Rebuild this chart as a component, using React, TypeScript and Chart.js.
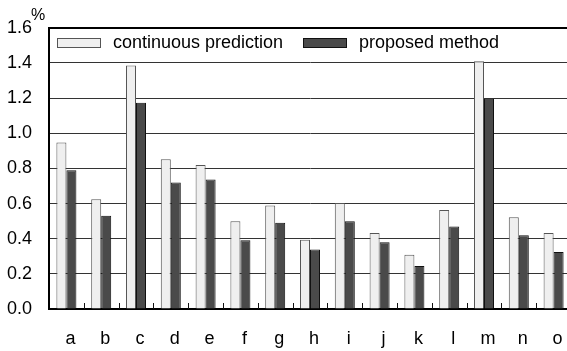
import React, { useEffect, useRef } from "react";
import { Chart, registerables } from "chart.js";

Chart.register(...registerables);

const categories = ["a", "b", "c", "d", "e", "f", "g", "h", "i", "j", "k", "l", "m", "n", "o"];
const continuousPrediction = [0.947, 0.624, 1.386, 0.852, 0.819, 0.5, 0.589, 0.394, 0.603, 0.432, 0.308, 0.563, 1.41, 0.522, 0.432];
const proposedMethod = [0.789, 0.53, 1.174, 0.72, 0.737, 0.391, 0.491, 0.339, 0.5, 0.38, 0.245, 0.47, 1.197, 0.419, 0.324];
const seriesLabels = ["continuous prediction", "proposed method"];
const yUnit = "%";

const FONT = "'Liberation Sans', Arial, Helvetica, sans-serif";

const extrasPlugin = {
  id: "extras",
  afterDatasetsDraw(chart: any) {
    const ctx = chart.ctx;
    const xs = chart.scales.x;
    const area = chart.chartArea;
    ctx.save();
    // boundary ticks pointing inward
    ctx.strokeStyle = "#111";
    ctx.lineWidth = 1;
    for (let i = 1; i <= categories.length; i++) {
      const x = Math.round((xs.getPixelForValue(i - 1) + xs.getPixelForValue(i)) / 2) + 0.5;
      ctx.beginPath();
      ctx.moveTo(x, area.bottom);
      ctx.lineTo(x, area.bottom - 6);
      ctx.stroke();
    }
    // legend
    const items = chart.data.datasets.map((d: any) => ({ label: d.label, fill: d.backgroundColor, stroke: d.borderColor }));
    const boxX = [57, 303];
    ctx.font = `18px ${FONT}`;
    ctx.textBaseline = "middle";
    items.forEach((it: any, i: number) => {
      const bx = boxX[i] + 0.5;
      ctx.fillStyle = it.fill;
      ctx.fillRect(bx, 38.5, 43, 9);
      ctx.strokeStyle = it.stroke;
      ctx.strokeRect(bx, 38.5, 43, 9);
      ctx.fillStyle = "#000";
      ctx.textAlign = "left";
      ctx.fillText(it.label, boxX[i] + 56, 43);
    });
    // unit
    ctx.font = `16px ${FONT}`;
    ctx.textBaseline = "alphabetic";
    ctx.fillText(yUnit, 31, 20);
    ctx.restore();
  },
};

export default function App() {
  const ref = useRef<HTMLCanvasElement>(null);
  useEffect(() => {
    document.documentElement.style.overflow = "hidden";
    document.body.style.overflow = "hidden";
    const chart = new Chart(ref.current as HTMLCanvasElement, {
      type: "bar",
      data: {
        labels: categories,
        datasets: [
          {
            label: seriesLabels[0],
            data: continuousPrediction,
            backgroundColor: "#efefef",
            borderColor: "#555",
            borderWidth: 1,
            categoryPercentage: 0.575,
            barPercentage: 1,
          },
          {
            label: seriesLabels[1],
            data: proposedMethod,
            backgroundColor: "#4a4a4a",
            borderColor: "#111",
            borderWidth: 1,
            categoryPercentage: 0.575,
            barPercentage: 1,
          },
        ],
      },
      options: {
        responsive: false,
        animation: false,
        devicePixelRatio: 1,
        layout: { padding: { left: 0, top: 20, right: 9, bottom: 0 } },
        plugins: { legend: { display: false }, tooltip: { enabled: false } },
        scales: {
          x: {
            grid: { display: false },
            border: { display: true, color: "#000", width: 2 },
            ticks: { font: { family: FONT, size: 18 }, color: "#000", padding: 11, labelOffset: 4, maxRotation: 0, autoSkip: false },
            afterFit(scale: any) {
              scale.height = 42;
            },
          },
          y: {
            min: 0,
            max: 1.6,
            grid: {
              color: (c: any) => (c.tick && c.tick.value === 1.6 ? "#000" : "#333"),
              lineWidth: (c: any) => (c.tick && c.tick.value === 1.6 ? 2 : 1),
              drawTicks: false,
            },
            border: { display: true, color: "#000", width: 2 },
            ticks: {
              stepSize: 0.2,
              padding: 17,
              color: "#000",
              font: { family: FONT, size: 18 },
              callback: (v: any) => Number(v).toFixed(1),
            },
            afterFit(scale: any) {
              scale.width = 49;
            },
          },
        },
      },
      plugins: [extrasPlugin],
    } as any);
    return () => chart.destroy();
  }, []);
  return (
    <div style={{ position: "fixed", left: 0, top: 0, width: 580, height: 351, overflow: "hidden", background: "#fff" }}>
      <canvas ref={ref} width={580} height={351} />
    </div>
  );
}
